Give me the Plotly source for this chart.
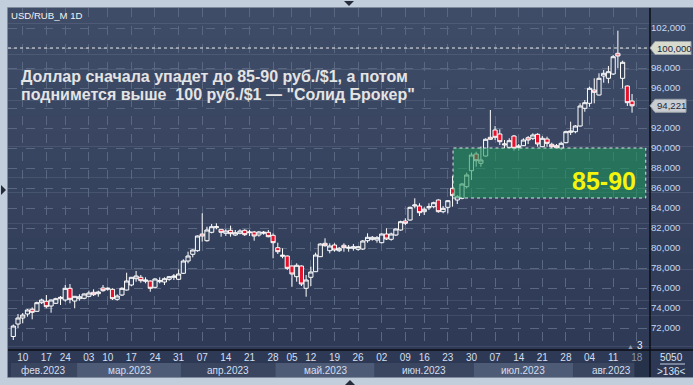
import pandas as pd
import plotly.graph_objects as go

# ---------------- data ----------------
symbol = "USD/RUB_M 1D"
first_bar = "2023-02-08"
last_bar = "2023-08-18"          # Aug 18 = empty (future) slot on the time axis
holidays = ["2023-02-23", "2023-03-08", "2023-05-01", "2023-05-09", "2023-06-12"]

open_ = [71.15, 72.4, 73.0, 73.4, 73.87, 73.67, 74.53, 74.67, 74.2, 74.47,
         74.93, 74.8, 75.97, 74.7, 74.93, 74.97, 75.17, 75.57, 75.43, 76.0,
         75.87, 75.87, 74.87, 75.3, 75.8, 76.3, 76.93, 77.07, 76.67, 76.7,
         76.07, 76.63, 76.6, 76.87, 77.07, 76.87, 77.47, 78.7, 79.37, 79.73,
         81.4, 80.73, 81.57, 82.03, 81.87, 81.47, 81.77, 81.3, 81.47, 81.77,
         81.53, 81.6, 81.3, 81.47, 81.57, 81.27, 80.03, 79.17, 79.2, 78.2,
         77.13, 78.2, 75.97, 77.07, 77.63, 79.13, 80.47, 79.73, 80.3, 79.73,
         80.27, 79.97, 79.97, 79.87, 79.9, 80.73, 80.87, 80.8, 80.53, 81.4,
         80.87, 81.3, 81.8, 82.7, 82.8, 84.2, 84.2, 83.63, 84.03, 84.13,
         84.8, 83.63, 84.07, 85.97, 84.8, 84.97, 86.13, 87.73, 89.4, 88.47,
         89.2, 91.07, 91.8, 91.4, 90.3, 90.07, 91.2, 90.07, 90.23, 91.03,
         90.97, 91.37, 90.13, 90.9, 90.37, 90.23, 89.97, 90.53, 91.57, 91.63,
         92.2, 93.97, 94.47, 95.8, 95.3, 97.2, 96.97, 97.4, 99.47, 96.97,
         96.2, 94.7]
high = [72.35, 73.4, 73.5, 73.9, 74.07, 74.63, 74.93, 75.3, 74.85, 75.03,
        75.2, 76.3, 76.4, 75.2, 75.37, 75.47, 75.73, 75.87, 75.73, 76.3,
        76.07, 75.97, 75.37, 76.07, 77.53, 77.1, 77.7, 77.3, 77.07, 76.75,
        76.97, 77.07, 77.07, 77.2, 77.4, 77.87, 78.87, 79.63, 79.87, 81.25,
        83.47, 82.13, 82.4, 82.47, 81.9, 81.87, 82.23, 81.8, 81.87, 81.87,
        81.8, 81.7, 81.7, 81.7, 81.8, 81.47, 80.53, 79.97, 79.25, 78.25,
        78.47, 78.25, 77.3, 78.13, 79.53, 80.47, 80.97, 80.47, 80.47, 80.1,
        80.47, 80.3, 80.4, 80.2, 80.8, 81.47, 81.2, 81.2, 81.47, 81.97,
        81.53, 81.97, 82.73, 82.97, 84.13, 84.97, 84.47, 84.07, 84.47, 84.63,
        84.87, 84.2, 84.8, 87.2, 85.3, 86.47, 87.53, 89.53, 89.63, 90.13,
        90.97, 93.8, 92.2, 91.87, 90.8, 90.97, 91.3, 90.4, 90.97, 91.2,
        91.47, 91.47, 91.2, 91.13, 90.53, 90.4, 90.63, 91.73, 92.63, 92.3,
        94.47, 94.8, 96.13, 96.97, 97.47, 97.8, 98.2, 99.3, 101.73, 98.73,
        96.25, 95.4]
low = [70.8, 71.97, 72.47, 73.13, 72.87, 73.63, 74.4, 73.97, 73.53, 74.4,
       74.3, 74.63, 74.47, 73.97, 74.73, 74.87, 75.07, 75.2, 75.13, 75.63,
       75.73, 74.8, 74.73, 75.2, 75.75, 76.2, 76.63, 76.53, 76.47, 75.63,
       75.97, 76.47, 76.3, 76.73, 76.8, 76.8, 77.4, 78.47, 79.07, 79.63,
       80.63, 80.63, 81.47, 81.87, 81.13, 81.2, 81.13, 81.2, 81.37, 81.2,
       81.2, 80.73, 81.13, 81.33, 81.07, 78.97, 79.4, 78.97, 77.8, 76.13,
       76.63, 76.2, 75.13, 76.2, 77.6, 79.1, 80.13, 79.47, 79.63, 79.6,
       79.63, 79.63, 79.73, 79.73, 79.8, 80.53, 80.73, 80.53, 80.47, 80.8,
       80.73, 81.2, 81.73, 82.3, 82.73, 83.97, 83.2, 83.3, 83.8, 83.97,
       83.53, 83.47, 83.47, 84.13, 84.4, 84.87, 85.97, 86.8, 88.13, 88.13,
       89.13, 90.8, 90.8, 90.3, 89.97, 89.97, 89.73, 89.73, 90.2, 90.4,
       90.8, 90.13, 90.07, 90.13, 89.97, 89.97, 89.8, 90.47, 91.3, 91.47,
       92.13, 93.63, 94.13, 94.47, 95.25, 96.53, 96.47, 97.3, 97.97, 95.97,
       94.2, 93.53]
close = [72.2, 73.0, 73.3, 73.8, 73.57, 74.53, 74.8, 74.13, 74.8, 74.93,
         75.07, 75.97, 74.87, 75.17, 75.13, 75.4, 75.5, 75.33, 75.6, 75.73,
         75.97, 74.93, 75.2, 75.97, 76.7, 77.07, 77.2, 76.73, 76.8, 75.97,
         76.9, 76.73, 76.93, 77.13, 77.2, 77.4, 78.7, 79.2, 79.8, 81.2,
         81.2, 81.8, 82.13, 82.13, 81.57, 81.7, 81.43, 81.53, 81.7, 81.33,
         81.6, 81.2, 81.6, 81.57, 81.13, 80.53, 79.63, 79.27, 77.97, 77.4,
         78.27, 76.4, 76.8, 77.6, 79.3, 80.4, 80.23, 80.2, 79.8, 79.97,
         80.03, 80.07, 80.13, 80.13, 80.7, 81.07, 81.07, 81.03, 81.4, 80.9,
         81.4, 81.9, 82.63, 82.47, 84.07, 84.3, 83.53, 83.87, 84.13, 84.53,
         83.63, 83.97, 84.73, 85.23, 85.13, 86.4, 87.3, 89.3, 88.73, 88.8,
         90.87, 90.87, 91.07, 90.63, 90.4, 90.73, 89.97, 90.2, 90.8, 90.8,
         91.3, 90.4, 90.97, 90.47, 90.13, 90.03, 90.47, 91.63, 91.7, 92.2,
         94.2, 94.53, 95.97, 95.57, 96.97, 97.47, 97.63, 99.13, 99.2, 98.57,
         94.53, 94.221]

y_ticks = [72, 74, 76, 78, 80, 82, 84, 86, 88, 90, 92, 94, 96, 98, 100, 102]
level_100 = 100.0
target_low, target_high = 85, 90
target_start = "2023-06-26"
target_label = "85-90"
month_names = {2: "фев.2023", 3: "мар.2023", 4: "апр.2023", 5: "май.2023",
               6: "июн.2023", 7: "июл.2023", 8: "авг.2023"}
title_lines = ["Доллар сначала упадет до 85-90 руб./$1, а потом",
               "поднимется выше\u00a0 100 руб./$1 — \"Солид Брокер\""]
corner_top, corner_bottom = "5050", ">136<"

# ---------------- time axis (trading-day index) ----------------
dates = [d for d in pd.bdate_range(first_bar, last_bar) if d.strftime("%Y-%m-%d") not in holidays]
n = len(close)
xi = list(range(n))
XMIN, XMAX = -1.12, 134.8
YMIN, YMAX = 69.8, 104.0
tick_idx = [i for i, d in enumerate(dates) if d.weekday() == 4]
tick_txt = [dates[i].strftime("%d") if i < n else "<span style='color:#8995a8'>%s</span>" % dates[i].strftime("%d")
            for i in tick_idx]
fmt = lambda v: ("%.3f" % v).replace(".", ",")
tagged = [level_100, round(close[-1])]
y_txt = ["" if v in tagged else fmt(v) for v in y_ticks]

# ---------------- pixel helpers for decoration ----------------
W, H = 693, 385
L, R, T, B = 8, 650, 8, 350
def px(x):
    return (x - L) / (R - L)
def py(y):
    return (B - y) / (B - T)
def yv(v):
    return (v - YMIN) / (YMAX - YMIN)

FONT = "Liberation Sans, Arial, sans-serif"
SMALL = 9.6
shapes = []
annos = []
def note(**kw):
    kw.setdefault("showarrow", False)
    kw.setdefault("xanchor", "center")
    kw.setdefault("yanchor", "middle")
    kw.setdefault("xref", "paper")
    kw.setdefault("yref", "paper")
    annos.append(kw)

# dark panel with a soft vertical gradient
top_c, bot_c = (63, 76, 104), (45, 57, 84)
nb = 24
for k in range(nb):
    t = k / (nb - 1)
    c = tuple(int(round(top_c[j] + (bot_c[j] - top_c[j]) * t)) for j in range(3))
    y0 = 8 + (377 - 8) * k / nb
    y1 = 8 + (377 - 8) * (k + 1) / nb
    shapes.append(dict(type="rect", xref="paper", yref="paper", layer="below",
                       x0=px(8), x1=px(693), y0=py(y1) - 0.001, y1=py(y0),
                       fillcolor="rgb(%d,%d,%d)" % c, line=dict(width=0)))
shapes.append(dict(type="rect", xref="paper", yref="paper", layer="below",
                   x0=px(7.5), x1=px(694), y0=py(377.5), y1=py(7.5),
                   fillcolor="rgba(0,0,0,0)", line=dict(color="#7f8a9c", width=1)))

# month bands on the lower time row
months = sorted(set(d.month for d in dates))
for m in months:
    idx = [i for i, d in enumerate(dates) if d.month == m]
    x0 = max(idx[0] - 0.5, XMIN)
    x1 = min(idx[-1] + 0.5, XMAX)
    if m == months[-1]:
        x1 = XMAX
    col = "#4e5b77" if m % 2 == 1 else "#3a4660"
    shapes.append(dict(type="rect", xref="x", yref="paper", layer="below",
                       x0=x0, x1=x1, y0=py(377), y1=py(363),
                       fillcolor=col, line=dict(width=0)))
    note(xref="x", x=(x0 + x1) / 2, y=py(370.5), text=month_names[m],
         font=dict(size=10, color="#d4deef", family=FONT))

# future column on time axis
shapes.append(dict(type="rect", xref="x", yref="paper", layer="below",
                   x0=n - 0.5, x1=XMAX, y0=py(377), y1=py(350),
                   fillcolor="#26314a", line=dict(width=0)))

# separators
shapes.append(dict(type="line", xref="paper", yref="paper", layer="above",
                   x0=1, x1=1, y0=py(377), y1=py(8), line=dict(color="#0b0e15", width=1.5)))
shapes.append(dict(type="line", xref="paper", yref="paper", layer="above",
                   x0=px(8), x1=px(693), y0=0, y1=0, line=dict(color="#0b0e15", width=1.5)))

# 100 level dotted line
shapes.append(dict(type="line", xref="paper", yref="y", layer="above",
                   x0=0, x1=1, y0=level_100, y1=level_100,
                   line=dict(color="#e6e6e6", width=1, dash="dot")))

# target box
box_x0 = dates.index(pd.Timestamp(target_start)) + 0.1
shapes.append(dict(type="rect", xref="x", yref="y", layer="above",
                   x0=box_x0, x1=XMAX - 0.9, y0=target_low, y1=target_high,
                   fillcolor="rgb(28,148,88)", opacity=0.58, line=dict(width=0)))
shapes.append(dict(type="rect", xref="x", yref="y", layer="above",
                   x0=box_x0, x1=XMAX - 0.9, y0=target_low, y1=target_high,
                   fillcolor="rgba(0,0,0,0)", line=dict(color="#d8e6de", width=1, dash="dot")))
note(x=px(604), yref="y", y=(target_low + target_high) / 2 - 0.75,
     text="<b>%s</b>" % target_label, font=dict(size=25, color="#f4f40c", family=FONT))

# price tags on the right axis
def tag(value, text, fill, x_right):
    yc = yv(value)
    hh = 6.5 / (B - T)
    path = "M %f %f L %f %f L %f %f L %f %f L %f %f Z" % (
        px(650), yc, px(655), yc + hh, px(x_right), yc + hh, px(x_right), yc - hh, px(655), yc - hh)
    shapes.append(dict(type="path", xref="paper", yref="paper", layer="above", path=path,
                       fillcolor=fill, line=dict(color="#9aa2a8", width=1)))
    note(x=px(654.5), y=yc, xanchor="left", text=text,
         font=dict(size=SMALL, color="#1c2840", family=FONT))

tag(level_100, fmt(level_100), "#d7dacd", 691)
tag(close[-1], fmt(close[-1]), "#c9cdd2", 686)

# texts
note(x=px(9), y=py(15), xanchor="left", text=symbol,
     font=dict(size=SMALL, color="#f2f2f2", family=FONT))
note(x=px(19), y=py(76), xanchor="left", text="<b>%s</b>" % title_lines[0],
     font=dict(size=16, color="#e4e4e4", family=FONT))
note(x=px(19), y=py(94), xanchor="left", text="<b>%s</b>" % title_lines[1],
     font=dict(size=16, color="#e4e4e4", family=FONT))
note(x=px(640), y=py(345), text="3", font=dict(size=10, color="#e8eef8", family=FONT))
note(x=px(630), y=py(346), text="▲", font=dict(size=7, color="#8f9aad", family=FONT))
note(x=px(672), y=py(357.5), text=corner_top, font=dict(size=10, color="#dbe3f0", family=FONT))
note(x=px(672), y=py(371.5), text=corner_bottom, font=dict(size=10, color="#dbe3f0", family=FONT))
shapes.append(dict(type="line", xref="paper", yref="paper", layer="above",
                   x0=px(660), x1=px(685), y0=py(364), y1=py(364), line=dict(color="#c5cfdf", width=1)))

# frame triangles
def tri(points, color="#252b38"):
    p = "M " + " L ".join("%f %f" % (px(a), py(b)) for a, b in points) + " Z"
    shapes.append(dict(type="path", xref="paper", yref="paper", layer="above", path=p,
                       fillcolor=color, line=dict(width=0)))
tri([(344, 1), (354, 1), (349, 6)])
tri([(345, 385), (355, 385), (350, 380)])
tri([(1, 185), (1, 195), (6, 190)])

# ---------------- figure ----------------
fig = go.Figure()
fig.add_trace(go.Candlestick(
    x=xi, open=open_, high=high, low=low, close=close,
    increasing=dict(line=dict(color="#ffffff", width=1), fillcolor="#38455f"),
    decreasing=dict(line=dict(color="#ffffff", width=1), fillcolor="#e5122c"),
    whiskerwidth=0, hoverinfo="skip", showlegend=False))

fig.update_layout(
    width=W, height=H,
    margin=dict(l=L, r=W - R, t=T, b=H - B, pad=0, autoexpand=False),
    paper_bgcolor="#c3cedd", plot_bgcolor="rgba(0,0,0,0)",
    font=dict(family=FONT, size=10, color="#d5dff0"),
    showlegend=False, boxgap=0.12, boxgroupgap=0,
    shapes=shapes, annotations=annos,
    xaxis=dict(range=[XMIN, XMAX], tickvals=tick_idx, ticktext=tick_txt,
               tickfont=dict(size=10, color="#d5dff0", family=FONT),
               showgrid=True, gridcolor="#5a6781", griddash="dash", gridwidth=1,
               zeroline=False, showline=False, ticks="", rangeslider=dict(visible=False),
               fixedrange=True, automargin=False),
    yaxis=dict(range=[YMIN, YMAX], side="right",
               tickvals=y_ticks, ticktext=y_txt,
               tickfont=dict(size=SMALL, color="#c8d8f0", family=FONT),
               showgrid=True, gridcolor="#5a6781", griddash="dash", gridwidth=1,
               zeroline=False, showline=False, ticks="", fixedrange=True, automargin=False),
)

fig.write_html("out.html", config={"displayModeBar": False},
               post_script="document.body.style.margin='0';document.body.style.padding='0';"
                           "document.body.style.overflow='hidden';")
